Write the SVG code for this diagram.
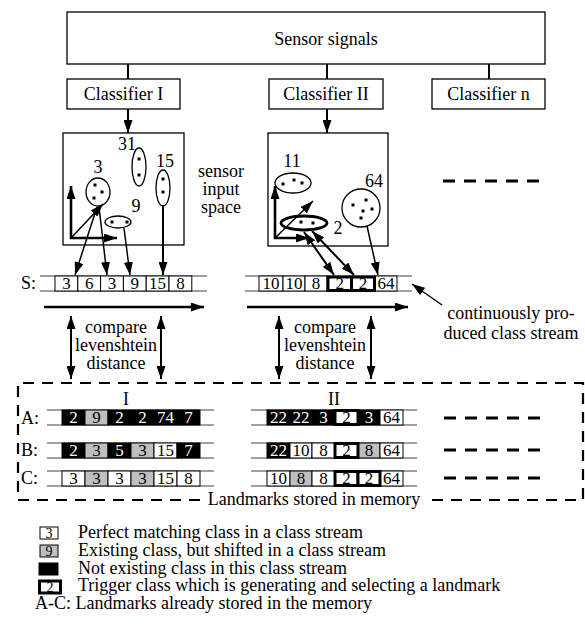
<svg xmlns="http://www.w3.org/2000/svg" width="585" height="631" viewBox="0 0 585 631">
<defs>
<style>
.t{font-family:"Liberation Serif","Times New Roman",serif;font-size:18px;fill:#000}
.m{text-anchor:middle}
.n{font-family:"Liberation Serif","Times New Roman",serif;font-size:17px;text-anchor:middle;fill:#000}
.nw{fill:#fff}
.lg{font-family:"Liberation Serif","Times New Roman",serif;font-size:14px;text-anchor:middle;fill:#000}
.box{fill:#fff;stroke:#000;stroke-width:1.3}
.ln{stroke:#000;stroke-width:2;fill:none}
.ln1{stroke:#000;stroke-width:1.5;fill:none}
.ax{stroke:#000;stroke-width:2.6;fill:none}
.gl{stroke:#808080;stroke-width:1.5}
.cw{fill:#fff;stroke:#000;stroke-width:1}
.cg{fill:#bfbfbf;stroke:#000;stroke-width:1}
.cb{fill:#000;stroke:#000;stroke-width:1}
.ct{fill:#fff;stroke:#000;stroke-width:3}
.el{fill:none;stroke:#000;stroke-width:1.3}
.dash{stroke:#000;stroke-width:3;stroke-dasharray:12 9;fill:none}
.bd{stroke:#000;stroke-width:2.2;stroke-dasharray:11 8;fill:none}
</style>
<marker id="ah" markerUnits="userSpaceOnUse" markerWidth="13" markerHeight="9" refX="13" refY="4.5" orient="auto-start-reverse"><path d="M0,0 L13,4.5 L0,9 z" fill="#000"/></marker>
</defs>

<g id="sensor"><rect class="box" x="67" y="12" width="478" height="52"/><text class="t m" x="326" y="45">Sensor signals</text></g>
<g id="classifier-1"><rect class="box" x="67" y="79" width="113" height="30"/><text class="t m" x="123.5" y="100">Classifier I</text></g>
<g id="classifier-2"><rect class="box" x="269" y="79" width="114" height="30"/><text class="t m" x="326" y="100">Classifier II</text></g>
<g id="classifier-n"><rect class="box" x="432" y="79" width="113" height="30"/><text class="t m" x="488.5" y="100">Classifier n</text></g>

<g id="space-1">
<rect class="box" x="63" y="133" width="121" height="112"/>
<text class="t m" x="127" y="150">31</text>
<ellipse class="el" cx="139" cy="167" rx="7" ry="19"/>
<rect x="137.5" y="157.5" width="3" height="3"/><rect x="137.5" y="173.5" width="3" height="3"/>
<text class="t m" x="165" y="167">15</text>
<ellipse class="el" cx="163" cy="188" rx="7" ry="18"/>
<rect x="161.5" y="177.5" width="3" height="3"/><rect x="161.5" y="190.5" width="3" height="3"/>
<text class="t m" x="98" y="173">3</text>
<ellipse class="el" cx="98" cy="192" rx="12" ry="14"/>
<rect x="93.5" y="183.5" width="3" height="3"/><rect x="100.5" y="190.5" width="3" height="3"/><rect x="92.5" y="196.5" width="3" height="3"/>
<text class="t m" x="136" y="212">9</text>
<ellipse class="el" cx="118" cy="222" rx="13" ry="6"/>
<rect x="110.5" y="220.5" width="3" height="3"/><rect x="125.5" y="220.5" width="3" height="3"/>
</g>
<g id="space-label"><text class="t m" x="221" y="177">sensor</text><text class="t m" x="221" y="195">input</text><text class="t m" x="221" y="213">space</text></g>

<g id="space-2">
<rect class="box" x="268" y="133" width="120" height="113"/>
<text class="t m" x="292" y="167">11</text>
<ellipse class="el" cx="293" cy="183" rx="18" ry="10"/>
<rect x="281.5" y="182.5" width="3" height="3"/><rect x="292.5" y="178.5" width="3" height="3"/><rect x="300.5" y="181.5" width="3" height="3"/>
<text class="t m" x="374" y="187">64</text>
<circle class="el" cx="361" cy="208" r="19"/>
<rect x="351.5" y="203.5" width="3" height="3"/><rect x="364.5" y="198.5" width="3" height="3"/><rect x="361.5" y="209.5" width="3" height="3"/><rect x="370.5" y="207.5" width="3" height="3"/><rect x="359.5" y="216.5" width="3" height="3"/>
<ellipse cx="304" cy="223" rx="23" ry="7" fill="none" stroke="#000" stroke-width="2.8"/>
<rect x="299.5" y="220.5" width="3" height="3"/><rect x="311.5" y="221.5" width="3" height="3"/>
<text class="t m" x="338" y="234">2</text>
</g>
<g id="placeholder-n"><line class="dash" x1="443" y1="181" x2="540" y2="181"/></g>

<g id="stream-1">
<text class="t" x="21" y="289">S:</text>
<line class="gl" x1="40" y1="276" x2="207" y2="276"/><line class="gl" x1="40" y1="291" x2="207" y2="291"/>
<rect class="cw" x="55" y="276" width="22.8" height="15"/><text class="n" x="66.4" y="289">3</text>
<rect class="cw" x="77.8" y="276" width="22.8" height="15"/><text class="n" x="89.2" y="289">6</text>
<rect class="cw" x="100.6" y="276" width="22.8" height="15"/><text class="n" x="112" y="289">3</text>
<rect class="cw" x="123.4" y="276" width="22.8" height="15"/><text class="n" x="134.8" y="289">9</text>
<rect class="cw" x="146.2" y="276" width="22.8" height="15"/><text class="n" x="157.6" y="289">15</text>
<rect class="cw" x="169" y="276" width="22.8" height="15"/><text class="n" x="180.4" y="289">8</text>
</g>
<g id="stream-2">
<line class="gl" x1="245" y1="276" x2="412" y2="276"/><line class="gl" x1="245" y1="291" x2="412" y2="291"/>
<rect class="cw" x="259" y="276" width="24" height="15"/><text class="n" x="271" y="289">10</text>
<rect class="cw" x="283" y="276" width="22" height="15"/><text class="n" x="294" y="289">10</text>
<rect class="cw" x="305" y="276" width="22" height="15"/><text class="n" x="316" y="289">8</text>
<rect class="cw" x="375" y="276" width="22" height="15"/><text class="n" x="386" y="289">64</text>
<rect class="ct" x="328" y="277" width="23.5" height="13.5"/><text class="n" x="339.7" y="289">2</text>
<rect class="ct" x="351.5" y="277" width="23" height="13.5"/><text class="n" x="363" y="289">2</text>
</g>
<g id="stream-label"><text class="t m" x="511" y="319">continuously pro-</text><text class="t m" x="511" y="339">duced class stream</text></g>

<g id="compare-1"><text class="t m" x="116" y="333">compare</text><text class="t m" x="116" y="351">levenshtein</text><text class="t m" x="116" y="369">distance</text></g>
<g id="compare-2"><text class="t m" x="325" y="333">compare</text><text class="t m" x="325" y="351">levenshtein</text><text class="t m" x="325" y="369">distance</text></g>

<g id="memory">
<path class="bd" d="M200,500 L18,500 L18,383 L583,383 L583,500 L428,500"/>
<text class="t m" x="314" y="505">Landmarks stored in memory</text>
<text class="t m" x="126" y="405">I</text>
<text class="t m" x="334" y="405">II</text>
<text class="t" x="21" y="424">A:</text>
<text class="t" x="21" y="456">B:</text>
<text class="t" x="21" y="484">C:</text>
<line class="dash" x1="444" y1="418" x2="540" y2="418"/>
<line class="dash" x1="444" y1="450" x2="540" y2="450"/>
<line class="dash" x1="444" y1="478" x2="540" y2="478"/>
</g>

<g id="landmark-1A">
<line class="gl" x1="47" y1="410" x2="214" y2="410"/><line class="gl" x1="47" y1="425" x2="214" y2="425"/>
<rect class="cb" x="62" y="410" width="23" height="15"/><text class="n nw" x="73.5" y="423">2</text>
<rect class="cg" x="85" y="410" width="23" height="15"/><text class="n" x="96.5" y="423">9</text>
<rect class="cb" x="108" y="410" width="23" height="15"/><text class="n nw" x="119.5" y="423">2</text>
<rect class="cb" x="131" y="410" width="23" height="15"/><text class="n nw" x="142.5" y="423">2</text>
<rect class="cb" x="154" y="410" width="23" height="15"/><text class="n nw" x="165.5" y="423">74</text>
<rect class="cb" x="177" y="410" width="23" height="15"/><text class="n nw" x="188.5" y="423">7</text>
</g>
<g id="landmark-1B">
<line class="gl" x1="47" y1="443" x2="214" y2="443"/><line class="gl" x1="47" y1="458" x2="214" y2="458"/>
<rect class="cb" x="62" y="443" width="23" height="15"/><text class="n nw" x="73.5" y="456">2</text>
<rect class="cg" x="85" y="443" width="23" height="15"/><text class="n" x="96.5" y="456">3</text>
<rect class="cb" x="108" y="443" width="23" height="15"/><text class="n nw" x="119.5" y="456">5</text>
<rect class="cg" x="131" y="443" width="23" height="15"/><text class="n" x="142.5" y="456">3</text>
<rect class="cw" x="154" y="443" width="23" height="15"/><text class="n" x="165.5" y="456">15</text>
<rect class="cb" x="177" y="443" width="23" height="15"/><text class="n nw" x="188.5" y="456">7</text>
</g>
<g id="landmark-1C">
<line class="gl" x1="47" y1="471" x2="214" y2="471"/><line class="gl" x1="47" y1="486" x2="214" y2="486"/>
<rect class="cw" x="62" y="471" width="23" height="15"/><text class="n" x="73.5" y="484">3</text>
<rect class="cg" x="85" y="471" width="23" height="15"/><text class="n" x="96.5" y="484">3</text>
<rect class="cw" x="108" y="471" width="23" height="15"/><text class="n" x="119.5" y="484">3</text>
<rect class="cg" x="131" y="471" width="23" height="15"/><text class="n" x="142.5" y="484">3</text>
<rect class="cw" x="154" y="471" width="23" height="15"/><text class="n" x="165.5" y="484">15</text>
<rect class="cw" x="177" y="471" width="23" height="15"/><text class="n" x="188.5" y="484">8</text>
</g>

<g id="landmark-2A">
<line class="gl" x1="251" y1="410" x2="417" y2="410"/><line class="gl" x1="251" y1="425" x2="417" y2="425"/>
<rect class="cb" x="267" y="410" width="23" height="15"/><text class="n nw" x="278.5" y="423">22</text>
<rect class="cb" x="290" y="410" width="22" height="15"/><text class="n nw" x="301" y="423">22</text>
<rect class="cb" x="312" y="410" width="23" height="15"/><text class="n nw" x="323.5" y="423">3</text>
<rect class="cb" x="358" y="410" width="22" height="15"/><text class="n nw" x="369" y="423">3</text>
<rect class="cw" x="380" y="410" width="23" height="15"/><text class="n" x="391.5" y="423">64</text>
<rect class="ct" x="335" y="410.5" width="23" height="14"/><text class="n" x="346.5" y="423">2</text>
</g>
<g id="landmark-2B">
<line class="gl" x1="251" y1="443" x2="417" y2="443"/><line class="gl" x1="251" y1="458" x2="417" y2="458"/>
<rect class="cb" x="267" y="443" width="23" height="15"/><text class="n nw" x="278.5" y="456">22</text>
<rect class="cw" x="290" y="443" width="22" height="15"/><text class="n" x="301" y="456">10</text>
<rect class="cw" x="312" y="443" width="23" height="15"/><text class="n" x="323.5" y="456">8</text>
<rect class="cg" x="358" y="443" width="22" height="15"/><text class="n" x="369" y="456">8</text>
<rect class="cw" x="380" y="443" width="23" height="15"/><text class="n" x="391.5" y="456">64</text>
<rect class="ct" x="335" y="443.5" width="23" height="14"/><text class="n" x="346.5" y="456">2</text>
</g>
<g id="landmark-2C">
<line class="gl" x1="251" y1="471" x2="417" y2="471"/><line class="gl" x1="251" y1="486" x2="417" y2="486"/>
<rect class="cw" x="267" y="471" width="23" height="15"/><text class="n" x="278.5" y="484">10</text>
<rect class="cg" x="290" y="471" width="22" height="15"/><text class="n" x="301" y="484">8</text>
<rect class="cw" x="312" y="471" width="23" height="15"/><text class="n" x="323.5" y="484">8</text>
<rect class="cw" x="380" y="471" width="23" height="15"/><text class="n" x="391.5" y="484">64</text>
<rect class="ct" x="335" y="471.5" width="23" height="14"/><text class="n" x="346.5" y="484">2</text>
<rect class="ct" x="358" y="471.5" width="22" height="14"/><text class="n" x="369" y="484">2</text>
</g>

<g id="legend">
<rect class="cw" x="40" y="527" width="18" height="12"/><text class="lg" x="49" y="538">3</text>
<text class="t" x="78" y="538">Perfect matching class in a class stream</text>
<rect class="cg" x="40" y="545" width="18" height="12"/><text class="lg" x="49" y="556">9</text>
<text class="t" x="78" y="556">Existing class, but shifted in a class stream</text>
<rect class="cb" x="39" y="563" width="19" height="12"/><text class="lg nw" x="48.5" y="574">8</text>
<text class="t" x="78" y="574">Not existing class in this class stream</text>
<rect class="ct" x="39.5" y="581" width="21" height="12"/><text class="lg" x="50" y="592">2</text>
<text class="t" x="78" y="591">Trigger class which is generating and selecting a landmark</text>
<text class="t" x="35" y="609">A-C: Landmarks already stored in the memory</text>
</g>

<g id="connectors">
<line class="ln" x1="128" y1="64" x2="128" y2="79"/>
<line class="ln" x1="327" y1="64" x2="327" y2="79"/>
<line class="ln" x1="489" y1="64" x2="489" y2="79"/>
<line class="ln" x1="128" y1="109" x2="128" y2="133" marker-end="url(#ah)"/>
<line class="ln" x1="327" y1="109" x2="327" y2="133" marker-end="url(#ah)"/>
<line class="ax" x1="71" y1="239" x2="71" y2="186" marker-end="url(#ah)"/>
<line class="ax" x1="70" y1="238" x2="117" y2="238" marker-end="url(#ah)"/>
<line class="ln1" x1="71" y1="238" x2="103" y2="204" marker-end="url(#ah)"/>
<line class="ln1" x1="97" y1="207" x2="75" y2="275" marker-end="url(#ah)"/>
<line class="ln1" x1="99" y1="207" x2="107" y2="275" marker-end="url(#ah)"/>
<line class="ln1" x1="124" y1="228" x2="130" y2="275" marker-end="url(#ah)"/>
<line class="ln" x1="163" y1="206" x2="163" y2="275" marker-end="url(#ah)"/>
<line class="ax" x1="275" y1="239" x2="275" y2="186" marker-end="url(#ah)"/>
<line class="ax" x1="274" y1="238" x2="309" y2="238" marker-end="url(#ah)"/>
<line class="ln1" x1="275" y1="238" x2="313" y2="201" marker-end="url(#ah)"/>
<line class="ln" x1="304" y1="232" x2="334" y2="275" marker-start="url(#ah)" marker-end="url(#ah)"/>
<line class="ln" x1="312" y1="231" x2="354" y2="275" marker-start="url(#ah)" marker-end="url(#ah)"/>
<line class="ln1" x1="367" y1="226" x2="378" y2="275" marker-end="url(#ah)"/>
<line class="ax" x1="44" y1="307" x2="204" y2="307" marker-end="url(#ah)"/>
<line class="ax" x1="247" y1="307" x2="408" y2="307" marker-end="url(#ah)"/>
<line class="ln1" x1="442" y1="305" x2="412" y2="284" marker-end="url(#ah)"/>
<line class="ln" x1="71" y1="316" x2="71" y2="379" marker-start="url(#ah)" marker-end="url(#ah)"/>
<line class="ln" x1="161" y1="316" x2="161" y2="379" marker-start="url(#ah)" marker-end="url(#ah)"/>
<line class="ln" x1="279" y1="316" x2="279" y2="379" marker-start="url(#ah)" marker-end="url(#ah)"/>
<line class="ln" x1="371" y1="316" x2="371" y2="379" marker-start="url(#ah)" marker-end="url(#ah)"/>
</g>
</svg>
